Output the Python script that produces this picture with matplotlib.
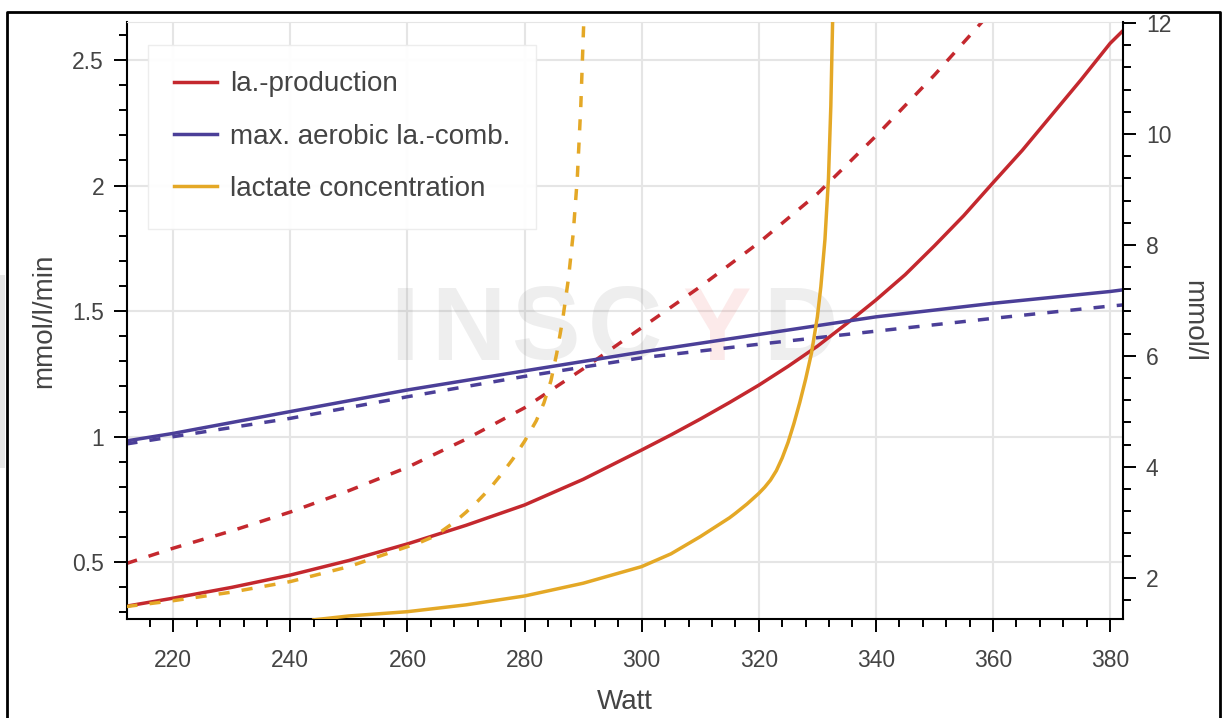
import matplotlib
matplotlib.use("Agg")
import matplotlib.pyplot as plt
from matplotlib.ticker import MultipleLocator, FuncFormatter
from matplotlib.lines import Line2D
from matplotlib.patches import Rectangle

plt.rcParams['font.family'] = ['Liberation Sans', 'DejaVu Sans']

# la.-production (mmol/l/min), solid and dashed scenario
watt_prod = [212, 220, 230, 240, 250, 260, 270, 280, 290, 300, 305, 310, 315, 320, 325, 330, 335, 340,
             345, 350, 355, 360, 365, 370, 375, 380, 383]
la_prod = [0.325, 0.357, 0.40, 0.449, 0.507, 0.573, 0.647, 0.728, 0.83, 0.947, 1.007, 1.07, 1.136,
           1.205, 1.28, 1.36, 1.45, 1.544, 1.645, 1.76, 1.88, 2.011, 2.14, 2.28, 2.42, 2.566, 2.635]
watt_prod_b = [212, 220, 230, 240, 250, 260, 270, 280, 290, 300, 310, 320, 330, 340, 350, 360]
la_prod_b = [0.495, 0.556, 0.625, 0.70, 0.785, 0.878, 0.99, 1.115, 1.27, 1.434, 1.597, 1.772, 1.967,
             2.197, 2.44, 2.70]

# max. aerobic la.-combustion (mmol/l/min)
watt_comb = [212, 220, 240, 260, 280, 300, 320, 340, 360, 380, 383]
la_comb = [0.983, 1.013, 1.10, 1.186, 1.262, 1.337, 1.407, 1.477, 1.531, 1.578, 1.587]
la_comb_b = [0.971, 1.0, 1.073, 1.159, 1.24, 1.314, 1.368, 1.42, 1.471, 1.52, 1.526]

# lactate concentration (mmol/l), right axis
watt_conc = [244, 250, 260, 270, 280, 290, 300, 305, 310, 315, 316, 318, 320, 321, 322, 323, 324, 325,
             326, 327, 328, 329, 330, 330.6, 331.3, 331.9, 332.3, 332.7]
lactate = [1.24, 1.31, 1.387, 1.51, 1.67, 1.90, 2.20, 2.43, 2.74, 3.08, 3.16, 3.33, 3.52, 3.63, 3.76,
           3.93, 4.16, 4.44, 4.78, 5.16, 5.58, 6.05, 6.7, 7.25, 8.1, 9.2, 10.5, 12.5]
watt_conc_b = [212, 220, 230, 240, 250, 260, 262, 264, 266, 268, 270, 272, 274, 276, 278, 280, 282,
               283.3, 284.5, 285.5, 286.5, 287.5, 288.3, 289, 289.6, 290.2]
lactate_b = [1.48, 1.585, 1.74, 1.93, 2.20, 2.56, 2.63, 2.72, 2.85, 3.0, 3.18, 3.38, 3.6, 3.86, 4.14,
             4.46, 4.83, 5.15, 5.55, 6.05, 6.65, 7.4, 8.2, 9.2, 10.5, 12.3]

red = '#c4282e'
blue = '#4b3f98'
gold = '#e4a826'
txt = '#444444'
lw = 2.5
dash = (0, (3.2, 3.5))

W, H = 1222, 718
fig = plt.figure(figsize=(W / 100, H / 100), dpi=100)
ax = fig.add_axes([127 / W, 1 - 619 / H, (1123 - 127) / W, (619 - 22) / H])
ax2 = ax.twinx()

ax.plot(watt_prod_b, la_prod_b, color=red, lw=lw, linestyle=dash)
ax.plot(watt_comb, la_comb_b, color=blue, lw=lw, linestyle=dash)
l1, = ax.plot(watt_prod, la_prod, color=red, lw=lw, label='la.-production')
l2, = ax.plot(watt_comb, la_comb, color=blue, lw=lw, label='max. aerobic la.-comb.')
ax2.plot(watt_conc_b, lactate_b, color=gold, lw=lw, linestyle=dash)
l3, = ax2.plot(watt_conc, lactate, color=gold, lw=lw, label='lactate concentration')

ax.set_xlim(212.1, 382.2)
ax.set_ylim(0.274, 2.651)
ax2.set_ylim(1.255, 12.02)

ax.xaxis.set_major_locator(MultipleLocator(20))
ax.xaxis.set_minor_locator(MultipleLocator(4))
ax.yaxis.set_major_locator(MultipleLocator(0.5))
ax.yaxis.set_minor_locator(MultipleLocator(0.1))
ax.yaxis.set_major_formatter(FuncFormatter(lambda v, p: '%g' % v))
ax2.yaxis.set_major_locator(MultipleLocator(2))
ax2.yaxis.set_minor_locator(MultipleLocator(0.4))

for a in (ax, ax2):
    a.tick_params(which='major', length=9.5, width=1.4, direction='out', color='black',
                  labelcolor=txt, labelsize=16.5, pad=7)
    a.tick_params(which='minor', length=6, width=1.4, direction='out', color='black')
ax.tick_params(axis='x', which='major', pad=12)

ax.grid(which='major', color='#e5e5e5', lw=1.5)
ax.set_axisbelow(True)

ax.spines['top'].set_color('#e5e5e5')
ax.spines['right'].set_visible(False)
ax.spines['left'].set_linewidth(1.5)
ax.spines['bottom'].set_linewidth(1.5)
for s in ('top', 'left', 'bottom'):
    ax2.spines[s].set_visible(False)
ax2.spines['right'].set_linewidth(1.5)

ax.set_xlabel('Watt', fontsize=20, color=txt, labelpad=12)
ax.set_ylabel('mmol/l/min', fontsize=20, color=txt, labelpad=11)
ax2.set_ylabel('mmol/l', fontsize=20, color=txt, rotation=270, va='bottom', labelpad=6)

# watermark
letters = ['I', 'N', 'S', 'C', 'Y', 'D']
letter_x = [404, 468, 545, 625, 717, 800]
for ch, px in zip(letters, letter_x):
    c = '#e53935' if ch == 'Y' else '#888888'
    al = 0.10 if ch == 'Y' else 0.14
    ax.text((px - 127) / 996, (619 - 333) / 597, ch, transform=ax.transAxes, fontsize=74,
            fontweight='bold', color=c, alpha=al, ha='center', va='center', zorder=1)

leg = ax2.legend(handles=[l1, l2, l3], loc='upper left', bbox_to_anchor=(0.021, 0.9615),
                 borderaxespad=0, fontsize=20, frameon=True, fancybox=False,
                 handlelength=1.55, handletextpad=0.45, labelspacing=0.95, borderpad=0.95)
leg.get_frame().set_edgecolor('#ececec')
leg.get_frame().set_alpha(0.95)
for t in leg.get_texts():
    t.set_color(txt)

# page frame and side strip
fig.add_artist(Line2D([7 / W, 7 / W, 1220 / W, 1220 / W], [0, 1 - 12 / H, 1 - 12 / H, 0],
                      transform=fig.transFigure, color='black', lw=2))
fig.add_artist(Rectangle((0, 1 - 468 / H), 5 / W, (468 - 275) / H, transform=fig.transFigure,
                         color='#e6e6e6', lw=0))

fig.savefig('out.png', dpi=100)
